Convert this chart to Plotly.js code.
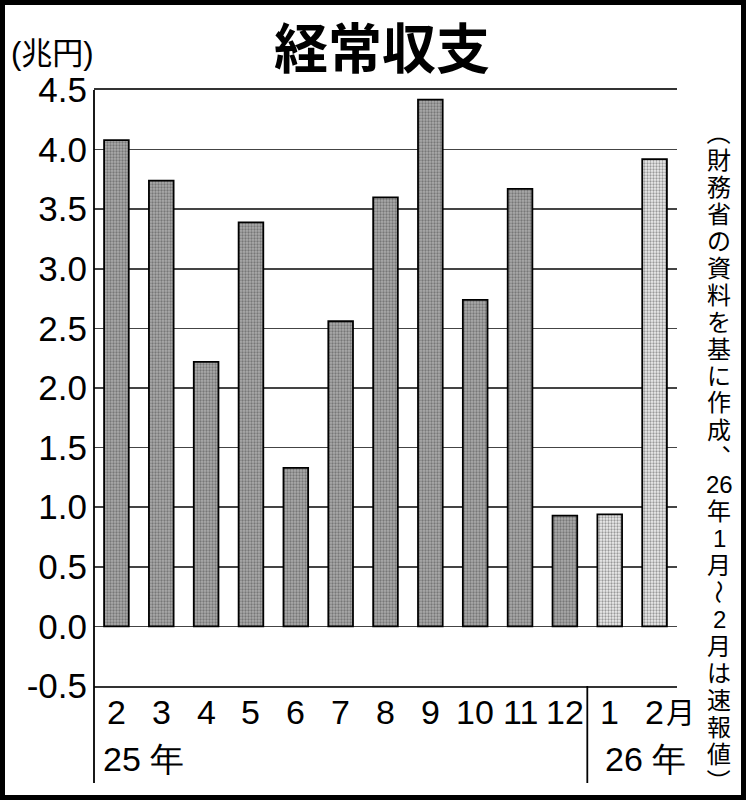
<!DOCTYPE html>
<html>
<head>
<meta charset="utf-8">
<script src="https://cdn.plot.ly/plotly-3.0.1.min.js"></script>
<style>
  html, body { margin: 0; padding: 0; background: #fff; overflow: hidden; }
  #wrap { position: relative; width: 746px; height: 800px; }
  #chart { position: absolute; left: 0; top: 0; width: 746px; height: 800px; }
  #frame { position: absolute; left: 0; top: 0; width: 746px; height: 800px;
           box-sizing: border-box; border: 5px solid #000; pointer-events: none; }
</style>
</head>
<body>
<div id="wrap"><div id="chart"></div><div id="frame"></div></div>
<script>
// 経常収支 (兆円), 2025年2月〜2026年2月
const categories = ['25-2', '25-3', '25-4', '25-5', '25-6', '25-7', '25-8',
                    '25-9', '25-10', '25-11', '25-12', '26-1', '26-2'];
const monthLabels = ['2', '3', '4', '5', '6', '7', '8', '9', '10', '11', '12', '1', '2'];
const balance = [4.08, 3.74, 2.22, 3.39, 1.33, 2.56, 3.60, 4.42, 2.74, 3.67, 0.93, 0.94, 3.92];
const preliminary = [false, false, false, false, false, false, false,
                     false, false, false, false, true, true];
const yTickVals = [-0.5, 0, 0.5, 1, 1.5, 2, 2.5, 3, 3.5, 4, 4.5];
const yTickText = ['-0.5', '0.0', '0.5', '1.0', '1.5', '2.0', '2.5', '3.0', '3.5', '4.0', '4.5'];
const yearLabels = ['25 年', '26 年'];
const titleText = '経常収支';
const unitText = '(兆円)';
// source note, written top to bottom one cell at a time
const noteCells = ['（', '財', '務', '省', 'の', '資', '料', 'を', '基', 'に', '作', '成', '︑',
                   '26', '年', '1', '月', '～', '2', '月', 'は', '速', '報', '値', '）'];

// page geometry
const W = 746, H = 800;
const M = { l: 94, r: 69, t: 90, b: 114 };
const PW = W - M.l - M.r, PH = H - M.t - M.b;
const px2x = px => (px - M.l) / PW;
const py2y = py => (H - M.b - py) / PH;

const JP = 'Noto Sans CJK JP, sans-serif';
const NUM = 'Liberation Sans, Arial, sans-serif';
// Latin face first (compact line box), Japanese glyphs come from the CJK face
const MIX = 'Liberation Sans, Noto Sans CJK JP, sans-serif';

const trace = {
  type: 'bar',
  x: categories,
  y: balance,
  marker: {
    color: preliminary.map(p => p ? '#eeeeee' : '#ababab'),
    line: { color: '#000', width: 1.8 },
    pattern: {
      shape: '.',
      fillmode: 'overlay',
      fgcolor: preliminary.map(p => p ? '#929292' : '#2a2a2a'),
      size: 3,
      solidity: 0.45
    }
  },
  hoverinfo: 'x+y'
};

const annotations = [];

// month labels along the category axis
monthLabels.forEach((m, i) => {
  annotations.push({
    text: m, xref: 'x', yref: 'paper',
    x: i, y: py2y(712), xanchor: 'center', yanchor: 'middle',
    showarrow: false, font: { family: NUM, size: 34, color: '#000' }
  });
});

// "月" suffix after the last month label
annotations.push({
  text: '月', xref: 'x', yref: 'paper',
  x: categories.length - 1, y: py2y(711), xanchor: 'left', yanchor: 'middle',
  xshift: 9, showarrow: false, font: { family: JP, size: 29, color: '#000' }
});

// unit label
annotations.push({
  text: unitText, xref: 'paper', yref: 'paper',
  x: px2x(9), y: py2y(54), xanchor: 'left', yanchor: 'middle',
  showarrow: false, font: { family: MIX, size: 31, color: '#000' }
});

// year labels under the month labels
annotations.push({
  text: yearLabels[0], xref: 'paper', yref: 'paper',
  x: px2x(101), y: py2y(759), xanchor: 'left', yanchor: 'middle',
  showarrow: false, font: { family: NUM, size: 34, color: '#000' }
});
annotations.push({
  text: yearLabels[1], xref: 'paper', yref: 'paper',
  x: px2x(603), y: py2y(759), xanchor: 'left', yanchor: 'middle',
  showarrow: false, font: { family: NUM, size: 34, color: '#000' }
});

// vertical source note on the right edge
const noteTop = 133, notePitch = 27.0, noteX = 719;
noteCells.forEach((ch, i) => {
  const a = {
    text: ch, xref: 'paper', yref: 'paper',
    x: px2x(noteX), y: py2y(noteTop + i * notePitch),
    xanchor: 'center', yanchor: 'middle', showarrow: false,
    font: { family: MIX, size: 24, color: '#000' }
  };
  if (ch === '（' || ch === '）' || ch === '～') a.textangle = 90;
  annotations.push(a);
});

const shapes = [
  // left axis carried down through the label area
  { type: 'line', xref: 'paper', yref: 'paper', x0: 0, x1: 0, y0: py2y(783), y1: 1,
    line: { color: '#000', width: 1.8 } },
  // divider between the 2025 and 2026 labels
  { type: 'line', xref: 'x', yref: 'paper', x0: 10.5, x1: 10.5, y0: py2y(783), y1: 0,
    line: { color: '#000', width: 1.8 } }
];

const layout = {
  width: W, height: H,
  margin: M,
  paper_bgcolor: '#fff', plot_bgcolor: '#fff',
  showlegend: false,
  bargap: 0.45,
  title: {
    text: '<b>' + titleText + '</b>',
    font: { family: JP, size: 54, color: '#000' },
    xref: 'paper', x: px2x(382), xanchor: 'center',
    yref: 'container', y: 1 - 50 / H, yanchor: 'middle'
  },
  xaxis: {
    type: 'category',
    range: [-0.5, categories.length - 0.5], autorange: false,
    tickvals: categories,
    showticklabels: false, automargin: false,
    ticks: '', showgrid: false,
    showline: true, mirror: true, linecolor: '#333', linewidth: 1.8,
    fixedrange: true
  },
  yaxis: {
    range: [-0.5, 4.5], autorange: false, automargin: false,
    tickvals: yTickVals, ticktext: yTickText,
    ticks: '', showgrid: true, gridcolor: '#444', gridwidth: 1.6,
    zeroline: false, showline: false,
    tickfont: { family: NUM, size: 35, color: '#000' },
    ticklabelstandoff: 6,
    fixedrange: true
  },
  annotations: annotations,
  shapes: shapes
};

Plotly.newPlot('chart', [trace], layout, { staticPlot: true });
</script>
</body>
</html>
